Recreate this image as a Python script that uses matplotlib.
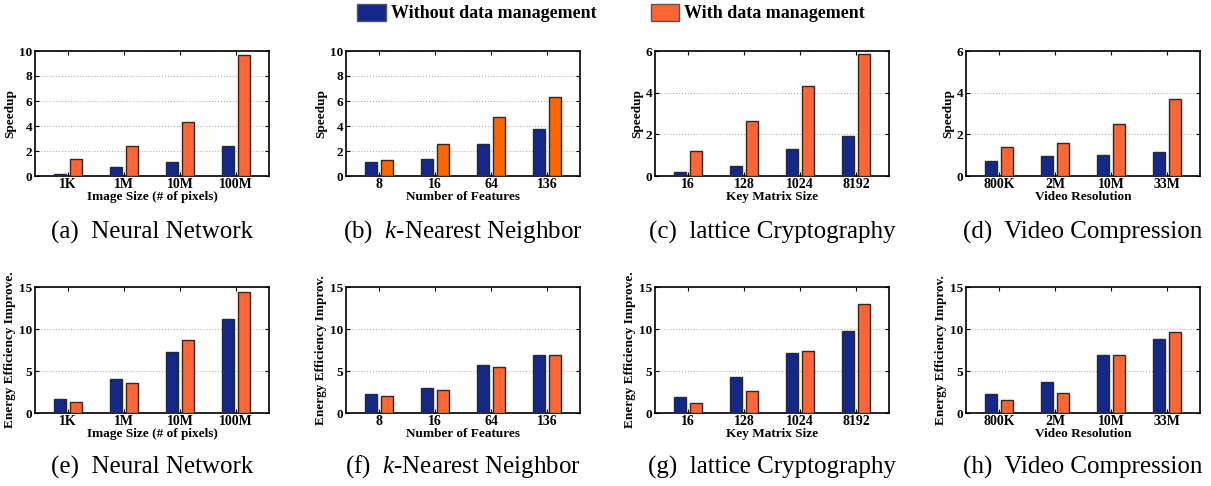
import matplotlib
matplotlib.use("Agg")
import matplotlib.pyplot as plt
from matplotlib.patches import Patch
import numpy as np

plt.rcParams['font.family'] = ['Liberation Serif', 'DejaVu Serif']
plt.rcParams['mathtext.fontset'] = 'custom'
plt.rcParams['mathtext.it'] = 'Liberation Serif:italic'
plt.rcParams['mathtext.rm'] = 'Liberation Serif'

BLUE = '#14288c'
ORANGE = '#ff6633'
ORANGE_KNN = '#ff6600'

# x categories per benchmark
nn_sizes = ['1K', '1M', '10M', '100M']
knn_features = ['8', '16', '64', '136']
lattice_sizes = ['16', '128', '1024', '8192']
video_res = ['800K', '2M', '10M', '33M']

# speedup (without / with data management)
nn_speed_wo = [0.13, 0.74, 1.09, 2.42]
nn_speed_w = [1.33, 2.42, 4.31, 9.7]
knn_speed_wo = [1.12, 1.36, 2.53, 3.75]
knn_speed_w = [1.3, 2.53, 4.73, 6.33]
lat_speed_wo = [0.18, 0.49, 1.29, 1.91]
lat_speed_w = [1.2, 2.62, 4.32, 5.84]
vid_speed_wo = [0.7, 0.96, 0.99, 1.13]
vid_speed_w = [1.4, 1.6, 2.5, 3.7]

# energy efficiency improvement
nn_energy_wo = [1.72, 4.1, 7.22, 11.17]
nn_energy_w = [1.28, 3.63, 8.74, 14.36]
knn_energy_wo = [2.31, 2.99, 5.66, 6.94]
knn_energy_w = [2.07, 2.79, 5.5, 6.94]
lat_energy_wo = [1.91, 4.31, 7.1, 9.81]
lat_energy_w = [1.2, 2.59, 7.42, 12.96]
vid_energy_wo = [2.31, 3.71, 6.94, 8.82]
vid_energy_w = [1.6, 2.43, 6.86, 9.65]

xlabels = ['Image Size (# of pixels)', 'Number of Features',
           'Key Matrix Size', 'Video Resolution']
captions = ['Neural Network', '$k$-Nearest Neighbor',
            'lattice Cryptography', 'Video Compression']
categories = [nn_sizes, knn_features, lattice_sizes, video_res]

top_row = [(nn_speed_wo, nn_speed_w, 10, 2),
           (knn_speed_wo, knn_speed_w, 10, 2),
           (lat_speed_wo, lat_speed_w, 6, 2),
           (vid_speed_wo, vid_speed_w, 6, 2)]
bottom_row = [(nn_energy_wo, nn_energy_w, 15, 5),
              (knn_energy_wo, knn_energy_w, 15, 5),
              (lat_energy_wo, lat_energy_w, 15, 5),
              (vid_energy_wo, vid_energy_w, 15, 5)]
energy_ylabels = ['Energy Efficiency Improve.', 'Energy Efficiency Improv.',
                  'Energy Efficiency Improve.', 'Energy Efficiency Improv.']

W, H = 1211, 486
fig = plt.figure(figsize=(W / 100, H / 100), dpi=100)

lefts = [35, 346, 655, 966]
ax_w = 234
rows = [(51, 176), (287, 413)]
letters = 'abcdefgh'


def draw_panel(ax, cats, wo, w, ymax, ystep, ylabel, xlabel, orange):
    x = np.arange(1, len(cats) + 1)
    bw = 0.23
    ax.bar(x - 0.143, wo, bw, color=BLUE, edgecolor='#2a2a2a', linewidth=1.0, zorder=3)
    ax.bar(x + 0.143, w, bw, color=orange, edgecolor='#2a2a2a', linewidth=1.0, zorder=3)
    ax.set_xlim(0.41, 4.59)
    ax.set_ylim(0, ymax)
    ax.set_xticks(x)
    ax.set_xticklabels(cats, fontweight='bold', fontsize=10)
    yt = np.arange(0, ymax + 0.01, ystep)
    ax.set_yticks(yt)
    ax.set_yticklabels([f'{v:g}' for v in yt], fontweight='bold', fontsize=9.5)
    ax.tick_params(direction='in', length=3, width=0.8, top=True, right=True, pad=2)
    ax.tick_params(axis='x', pad=1.5)
    ax.grid(axis='y', linestyle=':', color='#b4b4b4', linewidth=0.8, zorder=0)
    for s in ax.spines.values():
        s.set_linewidth(1.2)
    ax.set_ylabel(ylabel, fontweight='bold', fontsize=9.5, labelpad=2)
    ax.set_xlabel(xlabel, fontweight='bold', fontsize=9.5, labelpad=0)


for r, (top, bot) in enumerate(rows):
    panels = top_row if r == 0 else bottom_row
    for i in range(4):
        ax = fig.add_axes([lefts[i] / W, 1 - bot / H, ax_w / W, (bot - top) / H])
        wo, w, ymax, ystep = panels[i]
        ylabel = 'Speedup' if r == 0 else energy_ylabels[i]
        orange = ORANGE_KNN if (r == 0 and i == 1) else ORANGE
        draw_panel(ax, categories[i], wo, w, ymax, ystep, ylabel, xlabels[i], orange)
        cap_y = 232 if r == 0 else 467
        cx = (lefts[i] + ax_w / 2) / W
        fig.text(cx, 1 - cap_y / H, f'({letters[r * 4 + i]})  {captions[i]}',
                 ha='center', va='center', fontsize=18)

handles = [Patch(facecolor=BLUE, edgecolor='#555555'),
           Patch(facecolor=ORANGE, edgecolor='#555555')]
fig.legend(handles, ['Without data management', 'With data management'],
           loc='center', bbox_to_anchor=(611 / W, 1 - 13 / H), ncol=2,
           frameon=False, prop={'weight': 'bold', 'size': 13},
           handlelength=1.6, handleheight=1.1, handletextpad=0.25,
           columnspacing=3.0, borderaxespad=0)

fig.savefig('out.png', dpi=100)
